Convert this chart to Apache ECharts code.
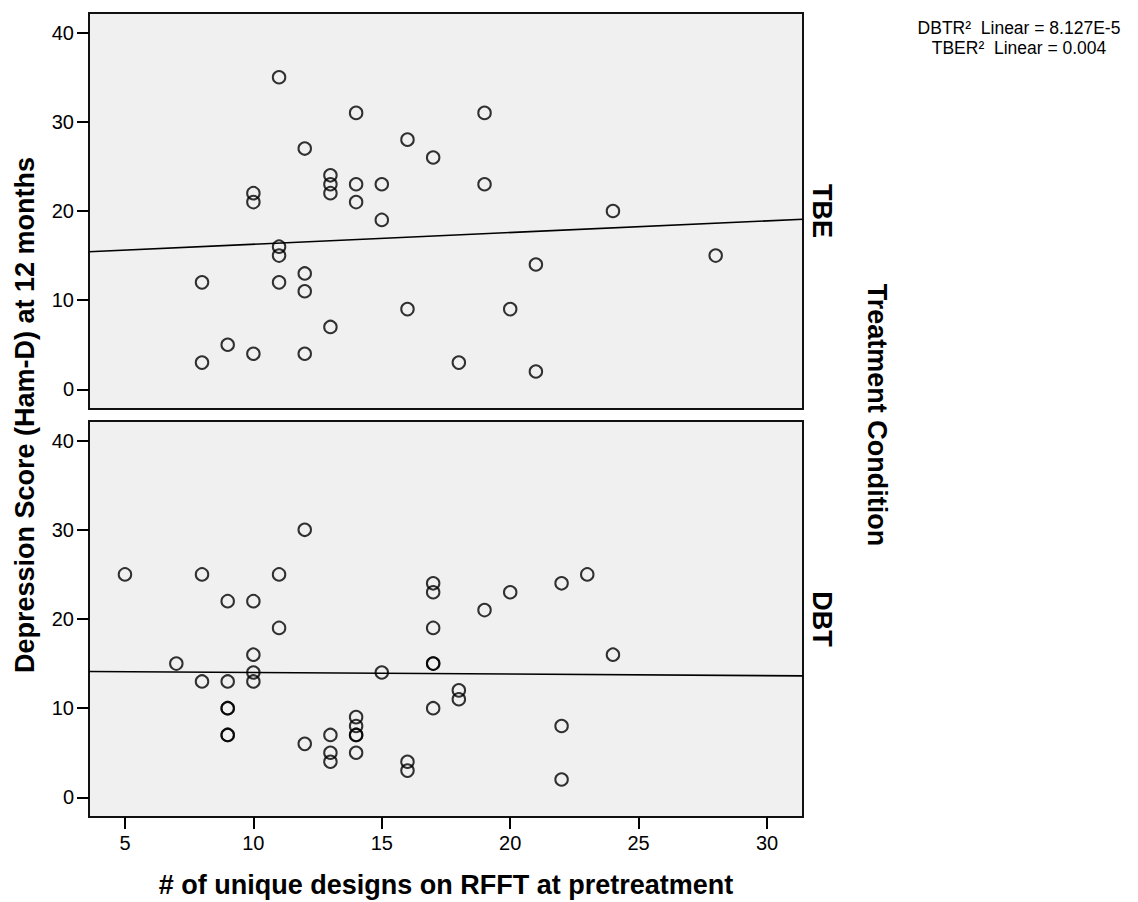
<!DOCTYPE html>
<html>
<head>
<meta charset="utf-8">
<title>Depression score vs RFFT unique designs</title>
<script src="https://cdn.jsdelivr.net/npm/echarts@6/dist/echarts.min.js"></script>
<style>
  html, body { margin: 0; padding: 0; background: #fff; }
  #main { width: 1138px; height: 902px; }
</style>
</head>
<body>
<div id="main"></div>
<script>
// TBE panel (top)
var tbeX = [8, 8, 9, 10, 10, 10, 11, 11, 11, 11, 12, 12, 12, 12, 13, 13, 13, 13, 14, 14, 14, 15, 15, 16, 16, 17, 18, 19, 19, 20, 21, 21, 24, 28];
var tbeY = [12, 3, 5, 22, 21, 4, 35, 16, 15, 12, 27, 13, 11, 4, 24, 23, 22, 7, 31, 23, 21, 23, 19, 28, 9, 26, 3, 31, 23, 9, 14, 2, 20, 15];

// DBT panel (bottom)
var dbtX = [5, 7, 8, 8, 9, 9, 9, 9, 9, 9, 10, 10, 10, 10, 11, 11, 12, 12, 13, 13, 13, 14, 14, 14, 14, 14, 15, 16, 16, 17, 17, 17, 17, 17, 17, 18, 18, 19, 20, 22, 22, 22, 23, 24];
var dbtY = [25, 15, 25, 13, 22, 13, 10, 10, 7, 7, 22, 16, 14, 13, 25, 19, 30, 6, 7, 5, 4, 9, 8, 7, 7, 5, 14, 4, 3, 24, 23, 19, 15, 15, 10, 12, 11, 21, 23, 24, 8, 2, 25, 16];

var xTicks = [5, 10, 15, 20, 25, 30];
var yTicks = [0, 10, 20, 30, 40];
var panelNames = ['TBE', 'DBT'];
var fitLabels = ['DBTR\u00b2  Linear = 8.127E-5', 'TBER\u00b2  Linear = 0.004'];

var xMin = 3.6, xMax = 31.4;
var yMin = -2.2, yMax = 42.2;

var tickFont = '"Liberation Sans Narrow", "Liberation Sans", Arial, sans-serif';
var titleFont = '"Liberation Sans", Arial, sans-serif';

function zip(xs, ys) {
  var out = [];
  for (var i = 0; i < xs.length; i++) out.push([xs[i], ys[i]]);
  return out;
}

// least squares fit line across the whole panel
function fitLine(xs, ys) {
  var n = xs.length, sx = 0, sy = 0, sxy = 0, sxx = 0;
  for (var i = 0; i < n; i++) {
    sx += xs[i]; sy += ys[i];
    sxy += xs[i] * ys[i]; sxx += xs[i] * xs[i];
  }
  var b = (sxy - sx * sy / n) / (sxx - sx * sx / n);
  var a = sy / n - b * sx / n;
  return [[xMin, a + b * xMin], [xMax, a + b * xMax]];
}

var chart = echarts.init(document.getElementById('main'), null, { renderer: 'svg' });

function makeX(idx, showLabels) {
  return {
    gridIndex: idx,
    type: 'value',
    min: xMin,
    max: xMax,
    axisLine: { show: false, onZero: false },
    axisTick: {
      show: showLabels,
      length: 12,
      customValues: xTicks,
      lineStyle: { color: '#000', width: 2 }
    },
    axisLabel: {
      show: showLabels,
      customValues: xTicks,
      margin: 16,
      color: '#000',
      fontSize: 20,
      fontFamily: tickFont
    },
    splitLine: { show: false }
  };
}

function makeY(idx) {
  return {
    gridIndex: idx,
    type: 'value',
    min: yMin,
    max: yMax,
    axisLine: { show: false, onZero: false },
    axisTick: {
      show: true,
      length: 12,
      customValues: yTicks,
      lineStyle: { color: '#000', width: 2 }
    },
    axisLabel: {
      customValues: yTicks,
      margin: 15,
      color: '#000',
      fontSize: 20,
      fontFamily: tickFont
    },
    splitLine: { show: false }
  };
}

function scatterSeries(idx, xs, ys) {
  return {
    type: 'scatter',
    xAxisIndex: idx,
    yAxisIndex: idx,
    data: zip(xs, ys),
    symbol: 'circle',
    symbolSize: 12.5,
    silent: true,
    itemStyle: { color: 'rgba(0,0,0,0)', borderColor: '#000', borderWidth: 2 },
    z: 3
  };
}

function lineSeries(idx, xs, ys) {
  return {
    type: 'line',
    xAxisIndex: idx,
    yAxisIndex: idx,
    data: fitLine(xs, ys),
    showSymbol: false,
    silent: true,
    lineStyle: { color: '#000', width: 1.6 },
    z: 2
  };
}

function label(text, x, y, size, bold, rot) {
  return {
    type: 'text',
    x: x,
    y: y,
    rotation: rot || 0,
    style: {
      text: text,
      fill: '#000',
      font: (bold ? 'bold ' : '') + size + 'px ' + titleFont,
      textAlign: 'center',
      textVerticalAlign: 'middle'
    }
  };
}

chart.setOption({
  animation: false,
  grid: [
    { left: 89, top: 13, width: 714, height: 396, show: true, backgroundColor: '#f0f0f0', borderColor: '#111', borderWidth: 2 },
    { left: 89, top: 421, width: 714, height: 396, show: true, backgroundColor: '#f0f0f0', borderColor: '#111', borderWidth: 2 }
  ],
  xAxis: [makeX(0, false), makeX(1, true)],
  yAxis: [makeY(0), makeY(1)],
  series: [
    lineSeries(0, tbeX, tbeY),
    scatterSeries(0, tbeX, tbeY),
    lineSeries(1, dbtX, dbtY),
    scatterSeries(1, dbtX, dbtY)
  ],
  graphic: [
    label('Depression Score (Ham-D) at 12 months', 25, 415, 27, true, Math.PI / 2),
    label('# of unique designs on RFFT at pretreatment', 446, 885, 27, true, 0),
    label(panelNames[0], 822, 211, 27, true, -Math.PI / 2),
    label(panelNames[1], 822, 619, 27, true, -Math.PI / 2),
    label('Treatment Condition', 877, 415, 27, true, -Math.PI / 2),
    label(fitLabels[0], 1019, 28, 17.5, false, 0),
    label(fitLabels[1], 1019, 47.5, 17.5, false, 0)
  ]
});
</script>
</body>
</html>
